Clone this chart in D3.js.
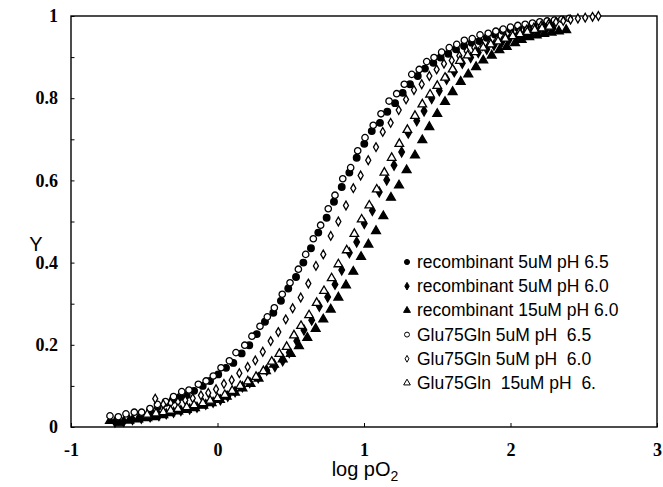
<!DOCTYPE html>
<html>
<head>
<meta charset="utf-8">
<script src="https://cdn.jsdelivr.net/npm/d3@7"></script>
<style>
  body { margin: 0; background: #fff; }
  svg { display: block; }
</style>
</head>
<body>
<svg width="663" height="487"></svg>
<script>
// series, [log pO2, Y]
const recPH65 = [
  [-0.46,0.040],[-0.408,0.049],[-0.352,0.059],[-0.306,0.066],[-0.256,0.073],[-0.21,0.078],
  [-0.16,0.088],[-0.101,0.100],[-0.051,0.112],[0.005,0.128],[0.058,0.144],[0.108,0.156],
  [0.165,0.179],[0.217,0.199],[0.268,0.226],[0.324,0.256],[0.381,0.278],[0.433,0.307],
  [0.483,0.337],[0.536,0.365],[0.586,0.400],[0.638,0.435],[0.688,0.473],[0.745,0.509],
  [0.795,0.548],[0.848,0.584],[0.900,0.619],[0.950,0.655],[1.002,0.689],[1.053,0.720],
  [1.109,0.740],[1.159,0.767],[1.212,0.788],[1.264,0.813],[1.314,0.834],[1.367,0.854],
  [1.416,0.872],[1.473,0.886],[1.523,0.899],[1.575,0.908],[1.628,0.919],[1.683,0.927],
  [1.735,0.935],[1.787,0.939],[1.838,0.947],[1.894,0.955],[1.947,0.964],[2.001,0.967],
  [2.053,0.971],[2.106,0.974],[2.156,0.977],[2.21,0.979],[2.26,0.982]
];
const recPH60 = [
  [-0.70,0.012],[-0.64,0.014],[-0.58,0.018],[-0.52,0.021],[-0.46,0.025],[-0.40,0.028],
  [-0.35,0.032],[-0.30,0.036],[-0.25,0.040],[-0.19,0.044],[-0.14,0.048],[-0.08,0.055],
  [-0.03,0.060],[0.02,0.066],[0.07,0.075],[0.12,0.086],[0.17,0.098],[0.22,0.108],
  [0.278,0.120],[0.336,0.138],[0.392,0.147],[0.445,0.161],[0.490,0.181],[0.541,0.209],
  [0.590,0.236],[0.643,0.260],[0.695,0.294],[0.752,0.316],[0.802,0.347],[0.848,0.382],
  [0.900,0.424],[0.950,0.450],[1.002,0.495],[1.057,0.527],[1.104,0.572],[1.155,0.601],
  [1.205,0.637],[1.257,0.669],[1.302,0.715],[1.360,0.745],[1.410,0.769],[1.462,0.799],
  [1.514,0.818],[1.564,0.846],[1.616,0.864],[1.671,0.885],[1.728,0.899],[1.780,0.911],
  [1.838,0.919],[1.887,0.929],[1.94,0.936],[1.99,0.942],[2.04,0.948],[2.09,0.953],
  [2.14,0.958],[2.19,0.962],[2.24,0.966],[2.29,0.970]
];
const rec15PH60 = [
  [-0.734,0.015],[-0.670,0.009],[-0.602,0.016],[-0.541,0.019],[-0.479,0.022],[-0.427,0.024],
  [-0.370,0.029],[-0.324,0.034],[-0.268,0.038],[-0.210,0.042],[-0.154,0.046],[-0.097,0.052],
  [-0.040,0.058],[0.017,0.066],[0.063,0.074],[0.119,0.084],[0.170,0.094],[0.225,0.105],
  [0.280,0.118],[0.331,0.136],[0.386,0.152],[0.445,0.165],[0.500,0.178],[0.556,0.197],
  [0.613,0.217],[0.670,0.239],[0.722,0.262],[0.773,0.286],[0.825,0.315],[0.877,0.345],
  [0.927,0.378],[0.980,0.414],[1.030,0.444],[1.082,0.477],[1.132,0.513],[1.184,0.558],
  [1.239,0.588],[1.291,0.625],[1.348,0.661],[1.398,0.698],[1.446,0.730],[1.500,0.762],
  [1.553,0.791],[1.605,0.815],[1.660,0.840],[1.712,0.858],[1.765,0.876],[1.814,0.892],
  [1.872,0.904],[1.924,0.917],[1.974,0.925],[2.031,0.934],[2.076,0.942],[2.128,0.949],
  [2.179,0.953],[2.23,0.957],[2.28,0.960],[2.33,0.963],[2.38,0.966]
];
const gluPH65 = [
  [-0.734,0.027],[-0.677,0.025],[-0.625,0.032],[-0.568,0.036],[-0.518,0.036],[-0.461,0.045],
  [-0.41,0.055],[-0.355,0.062],[-0.30,0.074],[-0.244,0.086],[-0.195,0.090],[-0.131,0.104],
  [-0.078,0.112],[-0.029,0.124],[0.024,0.144],[0.081,0.161],[0.126,0.181],[0.186,0.199],
  [0.235,0.221],[0.290,0.245],[0.340,0.268],[0.388,0.290],[0.442,0.323],[0.495,0.351],
  [0.552,0.384],[0.602,0.420],[0.654,0.458],[0.704,0.491],[0.756,0.531],[0.802,0.564],
  [0.855,0.604],[0.909,0.631],[0.957,0.672],[1.007,0.704],[1.063,0.734],[1.116,0.762],
  [1.171,0.793],[1.223,0.811],[1.275,0.834],[1.326,0.858],[1.377,0.870],[1.428,0.889],
  [1.478,0.899],[1.530,0.912],[1.582,0.923],[1.633,0.931],[1.685,0.941],[1.739,0.945],
  [1.792,0.954],[1.848,0.958],[1.90,0.963],[1.95,0.968],[2.00,0.973],[2.05,0.977],
  [2.10,0.980],[2.15,0.983],[2.20,0.986],[2.25,0.988],[2.30,0.990],[2.35,0.992],[2.40,0.994]
];
const gluPH60 = [
  [-0.425,0.069],[-0.37,0.055],[-0.32,0.058],[-0.27,0.061],[-0.22,0.065],[-0.169,0.070],
  [-0.113,0.077],[-0.063,0.083],[-0.010,0.092],[0.044,0.105],[0.097,0.114],[0.149,0.131],
  [0.206,0.146],[0.258,0.162],[0.309,0.183],[0.363,0.209],[0.415,0.231],[0.466,0.262],
  [0.513,0.289],[0.568,0.315],[0.620,0.349],[0.672,0.392],[0.722,0.420],[0.773,0.465],
  [0.825,0.500],[0.877,0.539],[0.927,0.581],[0.977,0.612],[1.029,0.649],[1.082,0.681],
  [1.128,0.718],[1.182,0.740],[1.237,0.771],[1.287,0.797],[1.341,0.820],[1.394,0.834],
  [1.446,0.854],[1.496,0.870],[1.546,0.884],[1.599,0.892],[1.651,0.903],[1.701,0.915],
  [1.753,0.923],[1.808,0.927],[1.860,0.935],[1.910,0.943],[1.962,0.950],[2.01,0.956],
  [2.06,0.962],[2.11,0.967],[2.16,0.972],[2.21,0.977],[2.26,0.981],[2.31,0.985],
  [2.36,0.988],[2.41,0.991],[2.46,0.994],[2.51,0.996],[2.56,0.998],[2.60,1.000]
];
const glu15PH60 = [
  [-0.48,0.030],[-0.42,0.033],[-0.37,0.036],[-0.32,0.040],[-0.27,0.044],[-0.21,0.048],
  [-0.16,0.053],[-0.10,0.058],[-0.05,0.064],[0.00,0.070],[0.05,0.078],[0.10,0.088],
  [0.155,0.100],[0.207,0.111],[0.263,0.122],[0.313,0.136],[0.370,0.159],[0.422,0.178],
  [0.472,0.195],[0.522,0.223],[0.570,0.246],[0.625,0.272],[0.677,0.302],[0.727,0.331],
  [0.779,0.362],[0.825,0.396],[0.882,0.430],[0.934,0.470],[0.984,0.505],[1.036,0.539],
  [1.087,0.578],[1.139,0.619],[1.189,0.655],[1.241,0.689],[1.296,0.723],[1.348,0.757],
  [1.398,0.785],[1.451,0.809],[1.500,0.830],[1.553,0.850],[1.605,0.870],[1.655,0.891],
  [1.708,0.904],[1.758,0.912],[1.814,0.923],[1.865,0.931],[1.915,0.938],[1.965,0.945],
  [2.015,0.951],[2.065,0.956],[2.115,0.961],[2.165,0.966],[2.215,0.970],[2.265,0.974]
];

const legendLabels = [
  "recombinant 5uM pH 6.5",
  "recombinant 5uM pH 6.0",
  "recombinant 15uM pH 6.0",
  "Glu75Gln 5uM pH  6.5",
  "Glu75Gln 5uM pH  6.0",
  "Glu75Gln  15uM pH  6."
];
const xTicks = [-1, 0, 1, 2, 3];
const yTicks = [0, 0.1, 0.2, 0.3, 0.4, 0.5, 0.6, 0.7, 0.8, 0.9, 1];
const yLabels = {0: "0", 0.2: "0.2", 0.4: "0.4", 0.6: "0.6", 0.8: "0.8", 1: "1"};

// marker styles per series
const series = [
  { data: recPH65,   shape: d3.symbolCircle,   size: 34, fill: "#000" },
  { data: recPH60,   shape: d3.symbolDiamond,  size: 28, fill: "#000" },
  { data: rec15PH60, shape: d3.symbolTriangle, size: 34, fill: "#000" },
  { data: gluPH65,   shape: d3.symbolCircle,   size: 32, fill: "#fff" },
  { data: gluPH60,   shape: d3.symbolDiamond,  size: 22, fill: "#fff" },
  { data: glu15PH60, shape: d3.symbolTriangle, size: 32, fill: "#fff" }
];

const svg = d3.select("svg");

const x = d3.scaleLinear().domain([-1, 3]).range([71, 657]);
const y = d3.scaleLinear().domain([0, 1]).range([427, 16]);

const serif = "'Liberation Serif', 'Times New Roman', serif";
const sans = "'Liberation Sans', Arial, Helvetica, sans-serif";

// frame
svg.append("rect")
  .attr("x", x(-1)).attr("y", y(1))
  .attr("width", x(3) - x(-1)).attr("height", y(0) - y(1))
  .attr("fill", "none").attr("stroke", "#000").attr("stroke-width", 1.4);

// x axis
const gx = svg.append("g")
  .attr("transform", `translate(0,${y(0)})`)
  .call(d3.axisBottom(x).tickValues(xTicks).tickSizeInner(-4).tickSizeOuter(0)
    .tickPadding(16).tickFormat(d => d < 0 ? "-" + Math.abs(d) : d));
gx.select(".domain").remove();
gx.selectAll("text").attr("font-family", serif).attr("font-size", 18)
  .attr("font-weight", "bold").attr("fill", "#000");
gx.selectAll("line").attr("stroke", "#000");

// y axis
const gy = svg.append("g")
  .attr("transform", `translate(${x(-1)},0)`)
  .call(d3.axisLeft(y).tickValues(yTicks).tickSizeInner(-3.5).tickSizeOuter(0)
    .tickPadding(13).tickFormat(d => yLabels[d] || ""));
gy.select(".domain").remove();
gy.selectAll("text").attr("font-family", serif).attr("font-size", 18)
  .attr("font-weight", "bold").attr("fill", "#000");
gy.selectAll("line").attr("stroke", "#000");

// axis titles
svg.append("text")
  .attr("x", 365).attr("y", 476)
  .attr("text-anchor", "middle")
  .attr("font-family", sans).attr("font-size", 20)
  .text("log pO")
  .append("tspan").attr("font-size", 14).attr("dy", 5).text("2");

svg.append("text")
  .attr("x", 36).attr("y", 251)
  .attr("text-anchor", "middle")
  .attr("font-family", sans).attr("font-size", 20)
  .text("Y");

// points
series.forEach(s => {
  const sym = d3.symbol().type(s.shape).size(s.size);
  svg.append("g").selectAll("path")
    .data(s.data)
    .join("path")
    .attr("transform", d => `translate(${x(d[0])},${y(d[1])})`)
    .attr("d", sym)
    .attr("fill", s.fill)
    .attr("stroke", "#000")
    .attr("stroke-width", 1.3);
});

// legend
const legend = svg.append("g").attr("transform", "translate(407,262)");
series.forEach((s, i) => {
  const row = legend.append("g").attr("transform", `translate(0,${i * 24.2})`);
  row.append("path")
    .attr("d", d3.symbol().type(s.shape).size(s.size * 0.6))
    .attr("fill", s.fill).attr("stroke", "#000").attr("stroke-width", 1);
  row.append("text")
    .attr("x", 10).attr("y", 6)
    .attr("font-family", sans).attr("font-size", 17.5)
    .style("white-space", "pre")
    .text(legendLabels[i]);
});
</script>
</body>
</html>
